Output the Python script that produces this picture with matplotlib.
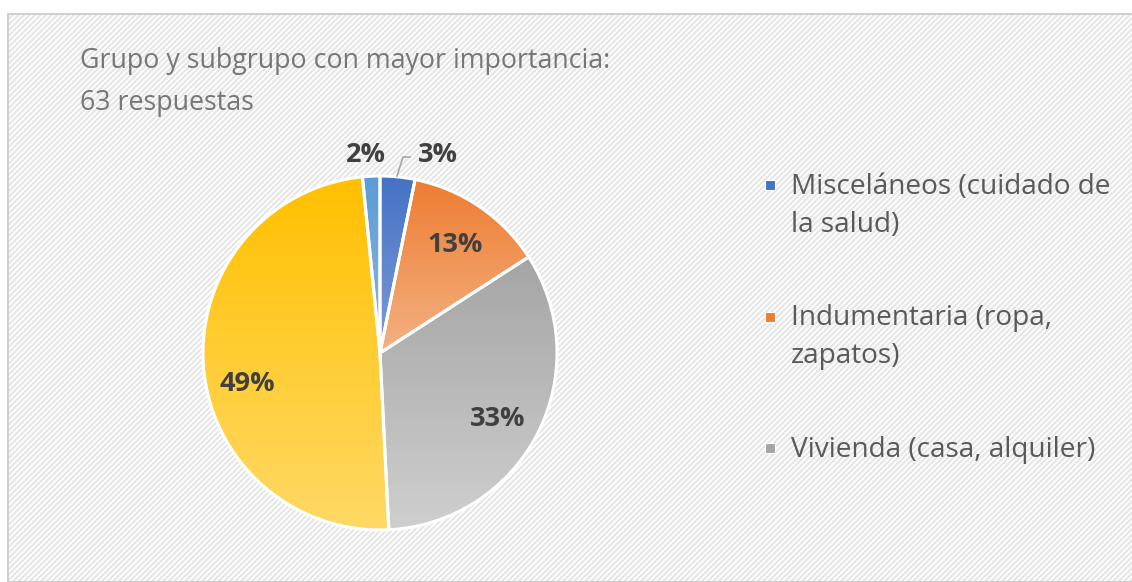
import numpy as np
import matplotlib
matplotlib.use("Agg")
import matplotlib.pyplot as plt
from matplotlib.patches import Rectangle
from matplotlib.colors import LinearSegmentedColormap

# data (counts out of 63 responses)
categories = ["Misceláneos (cuidado de\nla salud)", "Indumentaria (ropa,\nzapatos)",
              "Vivienda (casa, alquiler)", "Otros", "Otros 2"]
counts = [2, 8, 21, 31, 1]
pct_labels = ["3%", "13%", "33%", "49%", "2%"]
title = "Grupo y subgrupo con mayor importancia:\n63 respuestas"

top_colors = ["#4472C4", "#ED7D31", "#A5A5A5", "#FFC000", "#5B9BD5"]
bottom_colors = ["#7F9CD8", "#F4B183", "#CFCFCF", "#FFD966", "#8DB9E3"]

W, H = 1132, 582
plt.rcParams["font.family"] = ["Open Sans", "DejaVu Sans"]
plt.rcParams["hatch.linewidth"] = 1.6
plt.rcParams["hatch.color"] = "#e6e6e6"

fig = plt.figure(figsize=(W / 100, H / 100), dpi=100)
fig.patch.set_facecolor("white")

# chart area with diagonal hatch
bg = Rectangle((8 / W, 0), 1.0, (H - 14) / H, transform=fig.transFigure,
               facecolor="white", edgecolor="#e6e6e6", hatch="//////",
               linewidth=0, zorder=-10)
fig.patches.append(bg)
border = Rectangle((8 / W, 0), 1.0, (H - 14) / H, transform=fig.transFigure,
                   facecolor="none", edgecolor="#d0d0d0", linewidth=1.5,
                   zorder=-9)
fig.patches.append(border)

# pie axes: center (380, 353) px, radius 177 px
cx, cy, r = 380, 353, 177
ax = fig.add_axes([(cx - r) / W, (H - cy - r) / H, 2 * r / W, 2 * r / H])
ax.set_zorder(1)
ax.patch.set_visible(False)

wedges, _ = ax.pie(counts, startangle=90, counterclock=False, radius=1,
                   wedgeprops=dict(edgecolor="white", linewidth=2.2))

grad = np.linspace(0, 1, 256).reshape(-1, 1)
for w, c0, c1 in zip(wedges, top_colors, bottom_colors):
    ext = w.get_path().get_extents(w.get_patch_transform())
    cmap = LinearSegmentedColormap.from_list("g", [c1, c0])
    im = ax.imshow(grad, cmap=cmap, aspect="auto", origin="lower",
                   extent=[ext.x0, ext.x1, ext.y0, ext.y1], zorder=1.5)
    im.set_clip_path(w)
    w.set_zorder(2)
    w.set_facecolor("none")
ax.set_xlim(-1, 1)
ax.set_ylim(-1, 1)
ax.set_aspect("equal")
ax.axis("off")

# percentage labels
total = sum(counts)
cum = np.cumsum([0] + counts)
nudge_y = [0, -0.01, -0.03, -0.12, 0]
label_style = dict(fontsize=19.5, fontweight="bold", color="#404040",
                   ha="center", va="center", zorder=5)
for i, lab in enumerate(pct_labels):
    mid = (cum[i] + cum[i + 1]) / 2 / total
    ang = np.deg2rad(90 - 360 * mid)
    x, y = 0.75 * np.cos(ang), 0.75 * np.sin(ang) + nudge_y[i]
    if i == 0:
        x, y = 0.33, 1.12
        ax.plot([0.17, 0.13, 0.096], [1.107, 1.107, 1.0], color="#a6a6a6",
                lw=1.2, clip_on=False, zorder=4)
    elif i == 4:
        x, y = -0.08, 1.12
    ax.text(x, y, lab, clip_on=False, **label_style)

fig.text(80 / W, 1 - 47 / H, title, fontsize=19.3, color="#767676",
         ha="left", va="top", linespacing=1.68)

# legend (only the first three entries are visible in the original)
leg_y0, leg_step = 185, 131.5
for i in range(3):
    yc = leg_y0 + i * leg_step
    fig.patches.append(Rectangle((765 / W, 1 - (yc + 5) / H), 10 / W, 10 / H,
                                 transform=fig.transFigure,
                                 facecolor=top_colors[i], edgecolor="white",
                                 lw=0.8, zorder=3))
    fig.text(791 / W, 1 - (yc - 12) / H, categories[i], fontsize=20.2,
             color="#595959", ha="left", va="top", linespacing=1.46)

fig.savefig("out.png", dpi=100)
